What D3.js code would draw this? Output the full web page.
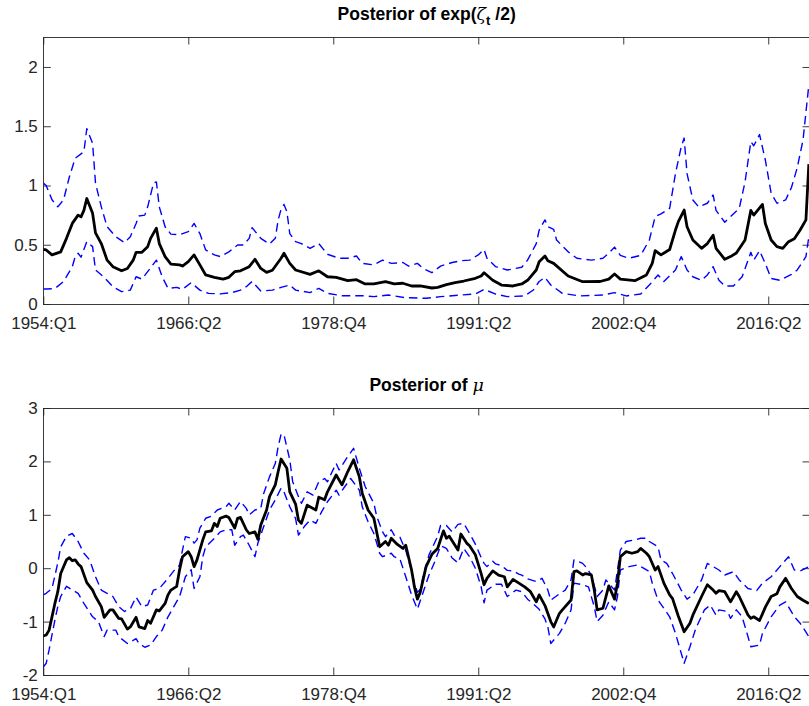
<!DOCTYPE html>
<html><head><meta charset="utf-8">
<script src="https://cdn.jsdelivr.net/npm/d3@7"></script>
<style>
html,body{margin:0;padding:0;background:#fff;}
svg{display:block;font-family:"Liberation Sans",Arial,Helvetica,sans-serif;}
</style></head>
<body><svg id="c" width="809" height="706"></svg>
<script>
// ---- data (observation index, value) ----
const xTickIdx = [0, 50, 100, 150, 200, 250];
const xTickLabels = ["1954:Q1", "1966:Q2", "1978:Q4", "1991:Q2", "2002:Q4", "2016:Q2"];
const sigTicks = [0, 0.5, 1, 1.5, 2];
const muTicks = [-2, -1, 0, 1, 2, 3];

// Posterior of exp(zeta_t/2): median
const sigMedT = [0,1,3,6,8,10,12,13,14,15,17,18,20,22,24,27,29,31,32,34,36,37,39,40,42,44,47,48,50,52,54,56,59,62,64,66,68,71,73,75,77,79,82,83,85,87,92,95,98,101,105,108,111,114,118,121,124,127,130,134,136,139,142,145,149,151,152,155,158,162,165,167,170,171,173,174,176,181,186,192,195,197,199,204,208,210,211,213,216,218,219,221,222,224,227,229,231,232,235,237,239,242,244,245,248,249,251,253,255,257,259,261,263,264];
const sigMedV = [0.46,0.456,0.414,0.44,0.554,0.68,0.75,0.735,0.79,0.89,0.765,0.6,0.51,0.37,0.315,0.28,0.30,0.37,0.436,0.436,0.484,0.554,0.64,0.51,0.40,0.337,0.33,0.32,0.357,0.414,0.33,0.245,0.225,0.21,0.225,0.273,0.28,0.315,0.377,0.30,0.267,0.285,0.386,0.428,0.343,0.287,0.25,0.28,0.23,0.225,0.197,0.205,0.169,0.169,0.188,0.169,0.175,0.152,0.152,0.135,0.14,0.163,0.18,0.194,0.217,0.236,0.264,0.2,0.16,0.152,0.169,0.2,0.287,0.357,0.405,0.365,0.343,0.236,0.188,0.19,0.21,0.253,0.21,0.197,0.245,0.343,0.45,0.414,0.46,0.624,0.695,0.793,0.652,0.54,0.47,0.51,0.58,0.47,0.377,0.4,0.43,0.54,0.79,0.75,0.84,0.68,0.54,0.484,0.47,0.526,0.55,0.624,0.71,1.18];
// upper band
const sigUpT = [0,1,3,5,7,9,11,14,15,17,18,20,22,25,28,30,32,33,35,36,38,39,40,42,44,47,50,52,54,56,59,61,64,67,69,71,72,75,78,80,81,82,83,84,85,87,89,92,95,98,102,105,108,110,114,117,120,124,126,129,131,134,137,141,144,147,150,152,153,156,160,165,167,170,171,173,174,176,177,181,184,189,193,195,197,199,202,206,209,211,213,216,218,220,221,222,224,226,229,231,232,235,237,240,242,244,245,247,249,251,253,256,258,260,262,264];
const sigUpV = [1.02,1.0,0.88,0.82,0.88,1.074,1.23,1.285,1.48,1.356,1.02,0.82,0.652,0.568,0.517,0.568,0.68,0.743,0.75,0.82,1.02,1.03,0.82,0.652,0.59,0.585,0.61,0.68,0.594,0.456,0.414,0.40,0.44,0.498,0.498,0.554,0.644,0.554,0.506,0.554,0.71,0.80,0.84,0.78,0.594,0.526,0.51,0.47,0.51,0.42,0.386,0.386,0.405,0.343,0.33,0.37,0.343,0.35,0.32,0.343,0.30,0.264,0.32,0.35,0.365,0.37,0.414,0.46,0.386,0.315,0.287,0.31,0.37,0.51,0.624,0.71,0.652,0.63,0.54,0.44,0.386,0.37,0.386,0.428,0.48,0.41,0.386,0.41,0.54,0.737,0.76,0.807,1.1,1.328,1.4,1.1,0.878,0.82,0.85,0.92,0.79,0.69,0.737,0.807,1.03,1.37,1.335,1.43,1.215,0.935,0.85,0.878,0.983,1.15,1.385,1.85];
// lower band
const sigLoT = [0,1,4,7,10,11,12,13,15,17,18,21,24,27,30,32,34,36,39,41,43,46,48,51,54,57,61,65,68,70,72,75,79,82,85,87,92,95,98,103,110,114,119,125,132,137,144,149,152,156,160,166,169,171,173,175,179,185,193,197,201,206,209,212,214,218,220,222,224,227,229,231,233,235,238,241,244,245,247,249,251,254,258,260,263,264];
const sigLoV = [0.127,0.127,0.13,0.19,0.315,0.40,0.428,0.395,0.526,0.484,0.287,0.225,0.146,0.104,0.117,0.23,0.21,0.273,0.37,0.23,0.132,0.14,0.124,0.18,0.117,0.09,0.085,0.096,0.117,0.146,0.19,0.11,0.117,0.14,0.16,0.117,0.096,0.132,0.09,0.07,0.07,0.062,0.076,0.053,0.048,0.062,0.076,0.084,0.124,0.084,0.062,0.068,0.118,0.19,0.225,0.16,0.09,0.068,0.076,0.096,0.068,0.084,0.16,0.245,0.19,0.287,0.40,0.287,0.23,0.2,0.245,0.315,0.2,0.152,0.152,0.23,0.436,0.37,0.45,0.34,0.215,0.2,0.25,0.287,0.4,0.568];

// Posterior of mu: median
const muMedT = [0,1,2,4,5,6,8,9,10,11,12,13,15,17,18,20,21,23,24,26,27,29,30,32,33,35,36,37,39,40,42,43,44,46,47,48,50,51,52,53,55,56,58,59,60,61,63,64,66,67,68,70,71,73,74,75,77,78,80,81,82,84,85,87,88,89,91,94,95,97,98,101,103,105,107,109,110,112,114,116,118,119,120,122,124,125,127,128,129,130,132,134,136,138,139,140,143,144,146,147,149,151,152,153,155,157,159,160,162,164,166,168,170,171,173,175,176,178,179,182,183,184,186,187,189,190,191,193,195,197,198,199,201,203,205,206,208,209,211,212,214,216,217,219,221,223,224,227,229,231,232,233,235,237,239,240,243,244,245,247,249,251,253,254,256,258,260,262,264];
const muMedV = [-1.27,-1.25,-1.16,-0.66,-0.44,-0.1,0.155,0.197,0.14,0.155,0.08,0.03,-0.27,-0.41,-0.53,-0.72,-0.92,-0.78,-0.78,-0.94,-0.95,-1.14,-1.1,-0.92,-1.1,-1.13,-0.98,-1.03,-0.78,-0.8,-0.66,-0.5,-0.41,-0.34,-0.03,0.215,0.31,0.215,0.03,0.155,0.53,0.68,0.7,0.84,0.78,0.935,0.975,0.95,0.75,0.935,0.95,0.72,0.65,0.68,0.54,0.81,1.09,1.34,1.56,1.81,2.045,1.87,1.43,1.2,0.9,0.84,1.18,1.09,1.33,1.28,1.43,1.745,1.56,1.81,2.03,1.71,1.40,1.09,0.935,0.40,0.5,0.43,0.56,0.45,0.37,0.43,-0.034,-0.35,-0.58,-0.45,0.03,0.26,0.37,0.70,0.56,0.60,0.34,0.64,0.47,0.42,0.25,-0.1,-0.31,-0.19,-0.05,-0.13,-0.16,-0.35,-0.21,-0.28,-0.35,-0.44,-0.63,-0.5,-0.7,-1.0,-1.1,-0.845,-0.78,-0.596,-0.065,-0.05,-0.127,-0.1,-0.127,-0.41,-0.78,-0.75,-0.33,-0.58,-0.28,0.215,0.31,0.28,0.31,0.37,0.28,0.215,-0.034,0.03,-0.28,-0.5,-0.57,-0.9,-1.19,-1.03,-0.88,-0.53,-0.31,-0.41,-0.47,-0.42,-0.44,-0.63,-0.44,-0.53,-0.875,-0.94,-0.91,-0.98,-0.73,-0.53,-0.48,-0.35,-0.19,-0.38,-0.53,-0.6,-0.66];
// upper band
const muUpT = [0,1,3,5,6,8,10,12,14,16,18,20,22,24,26,28,30,32,34,36,38,40,43,45,47,48,49,51,52,53,54,56,58,60,63,64,66,68,70,71,73,75,76,78,80,81,82,83,85,86,88,89,91,93,95,97,98,101,102,105,107,109,111,114,115,117,118,120,121,123,125,127,128,129,130,131,133,136,137,139,141,143,145,147,149,151,152,153,155,156,158,160,162,164,165,167,170,172,174,175,178,180,182,183,186,187,189,191,193,194,197,199,201,204,206,208,209,212,213,215,217,220,222,224,227,229,231,233,235,238,240,243,246,248,251,254,257,259,261,264];
const muUpV = [-0.5,-0.47,-0.38,0.1,0.40,0.60,0.65,0.5,0.28,0.155,-0.16,-0.41,-0.47,-0.53,-0.72,-0.81,-0.76,-0.54,-0.72,-0.69,-0.41,-0.38,-0.19,-0.05,0.06,0.34,0.59,0.56,0.47,0.53,0.75,0.935,0.975,1.09,1.15,1.215,1.09,1.25,1.12,1.0,1.09,1.12,1.40,1.71,1.96,2.28,2.51,2.5,2.03,1.62,1.34,1.215,1.43,1.37,1.62,1.68,1.62,1.965,1.84,2.09,2.245,1.87,1.53,1.215,0.965,0.68,0.59,0.72,0.62,0.58,0.33,-0.05,-0.28,-0.45,-0.4,-0.15,0.25,0.6,0.8,0.8,0.68,0.82,0.84,0.65,0.45,0.2,0.09,0.03,0.13,0.08,0.05,-0.04,-0.05,-0.11,-0.13,-0.2,-0.25,-0.19,-0.41,-0.6,-0.48,-0.41,-0.22,0.155,0.09,0.03,-0.127,-0.53,-0.41,-0.22,-0.41,0.34,0.5,0.53,0.56,0.56,0.5,0.4,0.155,0.09,-0.1,-0.41,-0.58,-0.5,-0.22,0.09,0.03,-0.034,-0.127,-0.065,-0.22,-0.38,-0.42,-0.28,-0.16,0.03,0.215,-0.034,-0.05,0.03];
// lower band
const muLoT = [0,1,2,4,5,6,8,10,12,14,17,19,21,22,25,26,29,32,33,35,37,39,41,43,45,47,49,51,52,54,55,56,59,61,63,65,66,68,69,71,73,74,76,78,80,82,83,85,87,88,90,92,94,96,98,101,102,104,106,109,110,112,114,116,117,120,121,123,125,127,129,131,133,135,137,139,141,143,145,147,149,151,152,153,156,158,160,163,165,167,169,171,173,174,175,178,180,182,183,186,188,190,191,193,195,197,198,199,202,205,207,209,210,212,214,216,218,221,223,225,228,230,232,233,236,237,239,241,243,244,247,248,251,254,256,259,261,264];
const muLoV = [-1.85,-1.78,-1.53,-0.97,-0.72,-0.53,-0.34,-0.41,-0.47,-0.66,-0.91,-1.0,-1.28,-1.16,-1.16,-1.28,-1.41,-1.32,-1.41,-1.48,-1.44,-1.28,-1.16,-0.91,-0.72,-0.53,-0.16,-0.03,-0.38,-0.16,0.215,0.40,0.56,0.68,0.72,0.72,0.43,0.59,0.62,0.43,0.215,0.47,0.78,1.09,1.28,1.50,1.43,1.15,0.93,0.62,0.78,0.9,0.84,1.06,1.245,1.46,1.37,1.53,1.68,1.46,1.15,0.87,0.65,0.28,0.215,0.28,0.215,0.17,-0.16,-0.5,-0.77,-0.45,-0.127,0.12,0.42,0.37,0.19,0.1,0.37,0.215,0.0,-0.35,-0.65,-0.41,-0.3,-0.3,-0.53,-0.41,-0.44,-0.58,-0.67,-0.77,-0.95,-1.1,-1.41,-1.22,-1.03,-0.78,-0.28,-0.31,-0.35,-0.72,-1.0,-0.88,-0.63,-0.78,-0.53,-0.034,0.03,0.06,0.0,-0.065,-0.28,-0.6,-0.75,-0.91,-1.22,-1.78,-1.47,-1.13,-0.78,-0.69,-0.88,-0.78,-0.81,-0.94,-0.78,-0.91,-1.28,-1.47,-1.44,-1.22,-0.91,-0.69,-0.63,-0.91,-1.03,-1.28];

// ---- drawing ----
const svg = d3.select("#c");
const AX = "#262626";
const left = 43.3, right = 810;
const x = d3.scaleLinear().domain([0, 264.4]).range([left, right]);

function panel(top, bottom, yDomain, yTicks, series, id) {
  const y = d3.scaleLinear().domain(yDomain).range([bottom, top]);
  const g = svg.append("g");
  g.append("clipPath").attr("id", id).append("rect")
    .attr("x", left).attr("y", top).attr("width", right - left).attr("height", bottom - top);
  const tl = 7.5;
  g.append("rect").attr("x", left).attr("y", top).attr("width", right - left).attr("height", bottom - top)
    .attr("fill", "none").attr("stroke", AX).attr("stroke-width", 0.9).attr("shape-rendering", "crispEdges");
  const xb = d3.axisBottom(x).tickValues(xTickIdx).tickFormat((d, i) => xTickLabels[i]).tickSizeInner(-tl).tickSizeOuter(0).tickPadding(tl + 5);
  const xa = g.append("g").attr("transform", `translate(0,${bottom})`).call(xb);
  const xt = d3.axisTop(x).tickValues(xTickIdx).tickFormat("").tickSizeInner(-tl).tickSizeOuter(0);
  const xta = g.append("g").attr("transform", `translate(0,${top})`).call(xt);
  const yl = d3.axisLeft(y).tickValues(yTicks).tickFormat(d => String(d)).tickSizeInner(-tl).tickSizeOuter(0).tickPadding(6);
  const ya = g.append("g").attr("transform", `translate(${left},0)`).call(yl);
  const yr = d3.axisRight(y).tickValues(yTicks).tickFormat("").tickSizeInner(-tl).tickSizeOuter(0);
  const yra = g.append("g").attr("transform", `translate(${right},0)`).call(yr);
  [xa, xta, ya, yra].forEach(a => {
    a.select(".domain").remove();
    a.selectAll("line").attr("stroke", AX).attr("stroke-width", 0.9);
    a.selectAll("text").attr("fill", AX).attr("font-size", 17).attr("font-family", '"Liberation Sans",Arial,sans-serif');
  });
  ya.selectAll("text").attr("x", -5.5);
  const line = d3.line().x(d => x(d[0])).y(d => y(d[1]));
  const plot = g.append("g").attr("clip-path", `url(#${id})`);
  series.forEach(s => {
    const pts = s.t.map((t, i) => [t, s.v[i]]);
    plot.append("path").datum(pts).attr("d", line).attr("fill", "none")
      .attr("stroke", s.color).attr("stroke-width", s.w)
      .attr("stroke-dasharray", s.dash || null)
      .attr("stroke-linejoin", "round");
  });
}

const DASH = "8.5,5";
panel(37, 304, [0, 2.253], sigTicks, [
  {t: sigUpT, v: sigUpV, color: "#0000ff", w: 1.4, dash: DASH},
  {t: sigLoT, v: sigLoV, color: "#0000ff", w: 1.4, dash: DASH},
  {t: sigMedT, v: sigMedV, color: "#000", w: 2.8}
], "clipA");

panel(408, 675, [-2, 3], muTicks, [
  {t: muUpT, v: muUpV, color: "#0000ff", w: 1.4, dash: DASH},
  {t: muLoT, v: muLoV, color: "#0000ff", w: 1.4, dash: DASH},
  {t: muMedT, v: muMedV, color: "#000", w: 2.8}
], "clipB");

// titles
const cx = (left + right) / 2;
const t1 = svg.append("text").attr("x", cx).attr("y", 20).attr("text-anchor", "middle")
  .attr("font-size", 17.5).attr("font-weight", "bold").attr("fill", "#000");
t1.append("tspan").text("Posterior of exp(");
t1.append("tspan").attr("font-family", '"DejaVu Serif","Liberation Serif",serif').attr("font-style", "italic").attr("font-weight", "normal").text("ζ");
t1.append("tspan").attr("font-size", 13).attr("dy", 5).text("t");
t1.append("tspan").attr("dy", -5).text(" /2)");

const t2 = svg.append("text").attr("x", cx).attr("y", 390.5).attr("text-anchor", "middle")
  .attr("font-size", 17.5).attr("font-weight", "bold").attr("fill", "#000");
t2.append("tspan").text("Posterior of ");
t2.append("tspan").attr("font-family", '"DejaVu Serif","Liberation Serif",serif').attr("font-style", "italic").attr("font-weight", "normal").text("μ");
</script>
</body></html>
